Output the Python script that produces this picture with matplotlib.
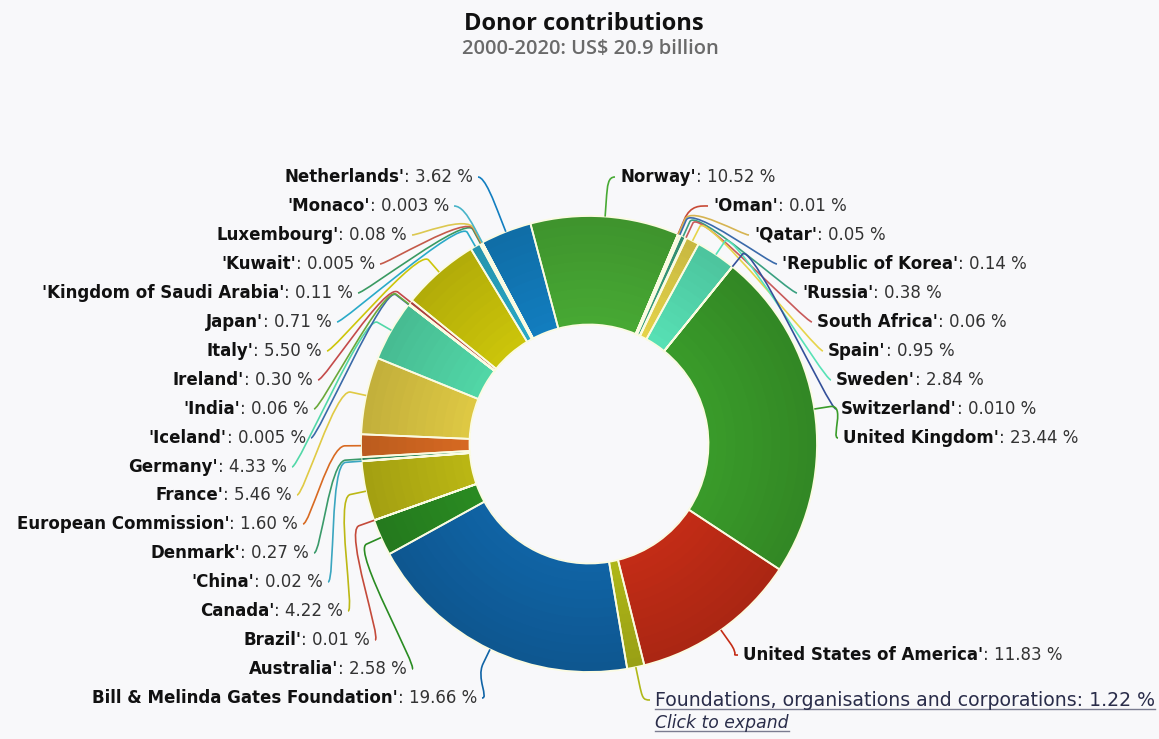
import numpy as np
import matplotlib
matplotlib.use('Agg')
import matplotlib.pyplot as plt
from matplotlib.path import Path
from matplotlib.patches import PathPatch
from matplotlib.offsetbox import TextArea, HPacker, AnnotationBbox
from matplotlib.colors import to_rgb

W, H = 1159, 739

# donors in drawing order (clockwise, starting with the Gates Foundation)
donors = ["Bill & Melinda Gates Foundation'", "Australia'", "Brazil'", "Canada'", "'China'",
          "Denmark'", "European Commission'", "France'", "Germany'", "'Iceland'", "'India'",
          "Ireland'", "Italy'", "Japan'", "'Kingdom of Saudi Arabia'", "'Kuwait'", "Luxembourg'",
          "'Monaco'", "Netherlands'", "Norway'", "'Oman'", "'Qatar'", "'Republic of Korea'",
          "'Russia'", "South Africa'", "Spain'", "Sweden'", "Switzerland'", "United Kingdom'",
          "United States of America'", "Foundations, organisations and corporations"]
share_txt = ["19.66", "2.58", "0.01", "4.22", "0.02", "0.27", "1.60", "5.46", "4.33", "0.005",
             "0.06", "0.30", "5.50", "0.71", "0.11", "0.005", "0.08", "0.003", "3.62", "10.52",
             "0.01", "0.05", "0.14", "0.38", "0.06", "0.95", "2.84", "0.010", "23.44", "11.83",
             "1.22"]
shares = [float(s) for s in share_txt]

colors = ['#1064a6', '#2a8c22', '#c44a3a', '#bcb814', '#3aa6c0', '#3a9a6a', '#d86a22',
          '#e0ca44', '#52d8a8', '#3a6aa8', '#6aa83a', '#c44a4a', '#cdc60a', '#2aaac8',
          '#3a9a62', '#c45a4a', '#dcc850', '#48b4c8', '#127ec0', '#48aa34', '#c84a36',
          '#d6b452', '#3a6aaa', '#3aa080', '#c85a5a', '#e6d44a', '#58e2b6', '#34509a',
          '#3a9c2a', '#c42c16', '#b0b818']

# label anchors: side, x (text edge), y (from top)
lab_side = ['L'] * 19 + ['R'] * 12
lab_x = [477, 407, 370, 343, 323, 309, 298, 292, 287, 306, 309, 313, 322, 332, 353, 375, 407,
         449, 473, 620, 713, 754, 782, 802, 817, 828, 836, 841, 843, 743, 655]
lab_y = [698, 669, 640, 611, 582, 553, 524, 495, 467, 438, 409, 380, 351, 322, 293, 264, 235,
         206, 177, 177, 206, 235, 264, 293, 322, 351, 380, 409, 438, 655, 700]

cx, cy = 589, H - 444
R_out, R_in = 228, 119.5
start = 90 - 170.35

fig = plt.figure(figsize=(W / 100, H / 100), dpi=100, facecolor='#f8f8fa')
ax = fig.add_axes([0, 0, 1, 1])
ax.set_facecolor('#f8f8fa')


def shade(c, f):
    return tuple(np.clip(np.array(to_rgb(c)) * f, 0, 1))


# radial shading: slightly darker at the outer rim
n_layers = 12
for k in range(n_layers):
    rad = R_out - k * (R_out - R_in) / n_layers
    t = (rad - R_in) / (R_out - R_in)
    ax.pie(shares, colors=[shade(c, 1.0 - 0.13 * t) for c in colors], radius=rad,
           center=(cx, cy), startangle=start, counterclock=False,
           wedgeprops=dict(width=rad - R_in, linewidth=0, antialiased=True))

# slice borders
wedges, _ = ax.pie(shares, radius=R_out, center=(cx, cy), startangle=start,
                   counterclock=False,
                   wedgeprops=dict(width=R_out - R_in, fill=False,
                                   edgecolor='#fbfbe2', linewidth=1.3))

fs = 12
brk = 16
for i, w in enumerate(wedges):
    a = np.deg2rad((w.theta1 + w.theta2) / 2)
    ux, uy = np.cos(a), np.sin(a)
    ex, ey = cx + R_out * ux, cy + R_out * uy
    bx, by = cx + (R_out + brk) * ux, cy + (R_out + brk) * uy
    ly = H - lab_y[i]
    if lab_side[i] == 'L':
        sx, c1x = lab_x[i] + 5, lab_x[i] + 12
    else:
        sx, c1x = lab_x[i] - 5, lab_x[i] - 12
    verts = [(sx, ly), (c1x, ly), (2 * bx - ex, 2 * by - ey), (bx, by), (ex, ey)]
    codes = [Path.MOVETO, Path.CURVE4, Path.CURVE4, Path.CURVE4, Path.LINETO]
    ax.add_patch(PathPatch(Path(verts, codes), fill=False, edgecolor=colors[i], lw=1.2,
                           zorder=3))

    if i == len(donors) - 1:
        continue
    name = TextArea(donors[i], textprops=dict(fontsize=fs, fontweight='bold', color='#111111'))
    val = TextArea(': ' + share_txt[i] + ' %', textprops=dict(fontsize=fs, color='#333333'))
    box = HPacker(children=[name, val], align='baseline', pad=0, sep=0)
    align = (1, 0.5) if lab_side[i] == 'L' else (0, 0.5)
    ax.add_artist(AnnotationBbox(box, (lab_x[i], ly), xycoords='data', box_alignment=align,
                                 frameon=False, pad=0, zorder=4))

# grouped entry with its link text
i = len(donors) - 1
t1 = ax.text(lab_x[i], H - lab_y[i], donors[i] + ': ' + share_txt[i] + ' %', fontsize=13.6,
             color='#2a2d4a', ha='left', va='center')
t2 = ax.text(lab_x[i], H - 723, 'Click to expand', fontsize=12.4, style='italic',
             color='#2a2d4a', ha='left', va='center')

ax.set_xlim(0, W)
ax.set_ylim(0, H)
ax.set_aspect('auto')
ax.set_axis_off()

fig.text(584 / W, 1 - 24 / H, 'Donor contributions', ha='center', va='center',
         fontsize=17, fontweight='bold', color='#111111', family='Open Sans')
fig.text(590 / W, 1 - 49 / H, '2000-2020: US$ 20.9 billion', ha='center', va='center',
         fontsize=14.5, fontweight='semibold', color='#6a6a6a', family='Open Sans')

rend = fig.canvas.get_renderer()
for t in (t1, t2):
    bb = t.get_window_extent(rend)
    ax.plot([bb.x0, bb.x1], [bb.y0 + 1, bb.y0 + 1], color='#7a7c90', lw=1)

fig.savefig('out.png', dpi=100, facecolor=fig.get_facecolor())
